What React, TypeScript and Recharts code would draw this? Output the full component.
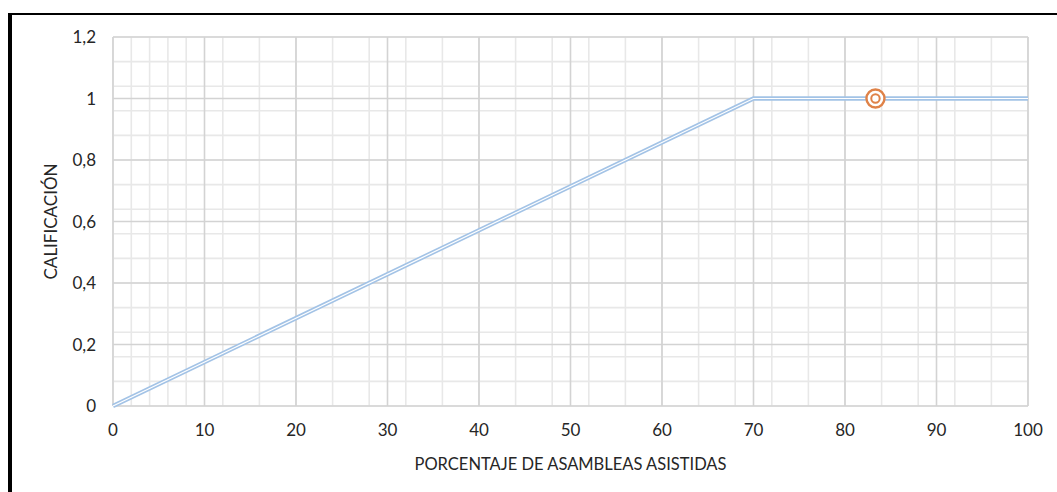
import { CartesianGrid, ComposedChart, Line, Scatter, XAxis, YAxis } from "recharts";

// curve: calificación vs % de asambleas asistidas
const pctAttended = [0, 70, 100];
const score = [0, 1, 1];

// highlighted point
const markerPct = [83.33];
const markerScore = [1];

const xTicks = [0, 10, 20, 30, 40, 50, 60, 70, 80, 90, 100];
const yTicks = [0, 0.2, 0.4, 0.6, 0.8, 1, 1.2];
const xMinor = [
  0, 2, 4, 6, 8, 10, 12, 14, 16, 18, 20, 22, 24, 26, 28, 30, 32, 34, 36, 38, 40, 42, 44, 46, 48, 50,
  52, 54, 56, 58, 60, 62, 64, 66, 68, 70, 72, 74, 76, 78, 80, 82, 84, 86, 88, 90, 92, 94, 96, 98, 100,
];
const yMinor = [
  0, 0.04, 0.08, 0.12, 0.16, 0.2, 0.24, 0.28, 0.32, 0.36, 0.4, 0.44, 0.48, 0.52, 0.56, 0.6, 0.64,
  0.68, 0.72, 0.76, 0.8, 0.84, 0.88, 0.92, 0.96, 1, 1.04, 1.08, 1.12, 1.16, 1.2,
];

const lineData = pctAttended.map((x, i) => ({ x, y: score[i] }));
const markerData = markerPct.map((x, i) => ({ x, y: markerScore[i] }));

const FONT = "Lato, 'Open Sans', sans-serif";
const TEXT = "#262626";
const tickStyle = { fontSize: 17, fill: TEXT, fontFamily: FONT };

const fmtComma = (v: number) => String(v).replace(".", ",");

function Target(props: any) {
  const { cx, cy } = props;
  return (
    <g>
      <circle cx={cx} cy={cy} r={9} fill="#fff" stroke="#df8248" strokeWidth={2.4} />
      <circle cx={cx} cy={cy} r={4.2} fill="#fff" stroke="#df8248" strokeWidth={2} />
    </g>
  );
}

export default function App() {
  return (
    <div
      style={{
        position: "absolute",
        left: 0,
        top: 0,
        width: 1057,
        height: 492,
        overflow: "hidden",
        background: "#fff",
      }}
    >
      <div
        style={{
          position: "absolute",
          left: 8,
          top: 13,
          width: 1200,
          height: 600,
          borderTop: "2px solid #000",
          borderLeft: "4px solid #000",
          boxSizing: "border-box",
        }}
      />
      <div style={{ position: "absolute", left: 0, top: 0 }}>
        <ComposedChart
          width={1057}
          height={492}
          data={lineData}
          margin={{ top: 37, right: 29, left: 0, bottom: 0 }}
        >
          <CartesianGrid
            verticalValues={xMinor}
            horizontalValues={yMinor}
            stroke="#e8e8e8"
            strokeWidth={1.6}
          />
          <CartesianGrid
            verticalValues={xTicks}
            horizontalValues={yTicks}
            stroke="#d3d3d3"
            strokeWidth={1.6}
          />
          <XAxis
            dataKey="x"
            type="number"
            domain={[0, 100]}
            ticks={xTicks}
            height={86}
            tickSize={0}
            tickMargin={18}
            axisLine={false}
            tickLine={false}
            tick={tickStyle}
            label={{
              content: ({ viewBox }: any) => (
                <text
                  x={viewBox.x + viewBox.width / 2}
                  y={470}
                  textAnchor="middle"
                  fontSize={16.5}
                  fill={TEXT}
                  fontFamily={FONT}
                >
                  PORCENTAJE DE ASAMBLEAS ASISTIDAS
                </text>
              ),
            }}
          />
          <YAxis
            dataKey="y"
            type="number"
            domain={[0, 1.2]}
            ticks={yTicks}
            width={113}
            tickSize={0}
            tickMargin={17}
            axisLine={false}
            tickLine={false}
            tick={tickStyle}
            tickFormatter={fmtComma}
            label={{
              content: ({ viewBox }: any) => {
                const cx = 57;
                const cy = viewBox.y + viewBox.height / 2;
                return (
                  <text
                    x={cx}
                    y={cy}
                    transform={`rotate(-90 ${cx} ${cy})`}
                    textAnchor="middle"
                    fontSize={17}
                    fill={TEXT}
                    fontFamily={FONT}
                  >
                    CALIFICACIÓN
                  </text>
                );
              },
            }}
          />
          <Line
            dataKey="y"
            type="linear"
            stroke="#a3c3e6"
            strokeWidth={4.4}
            dot={false}
            isAnimationActive={false}
          />
          <Line
            dataKey="y"
            type="linear"
            stroke="#ffffff"
            strokeWidth={1.2}
            dot={false}
            isAnimationActive={false}
          />
          <Scatter data={markerData} dataKey="y" shape={<Target />} isAnimationActive={false} />
        </ComposedChart>
      </div>
    </div>
  );
}
